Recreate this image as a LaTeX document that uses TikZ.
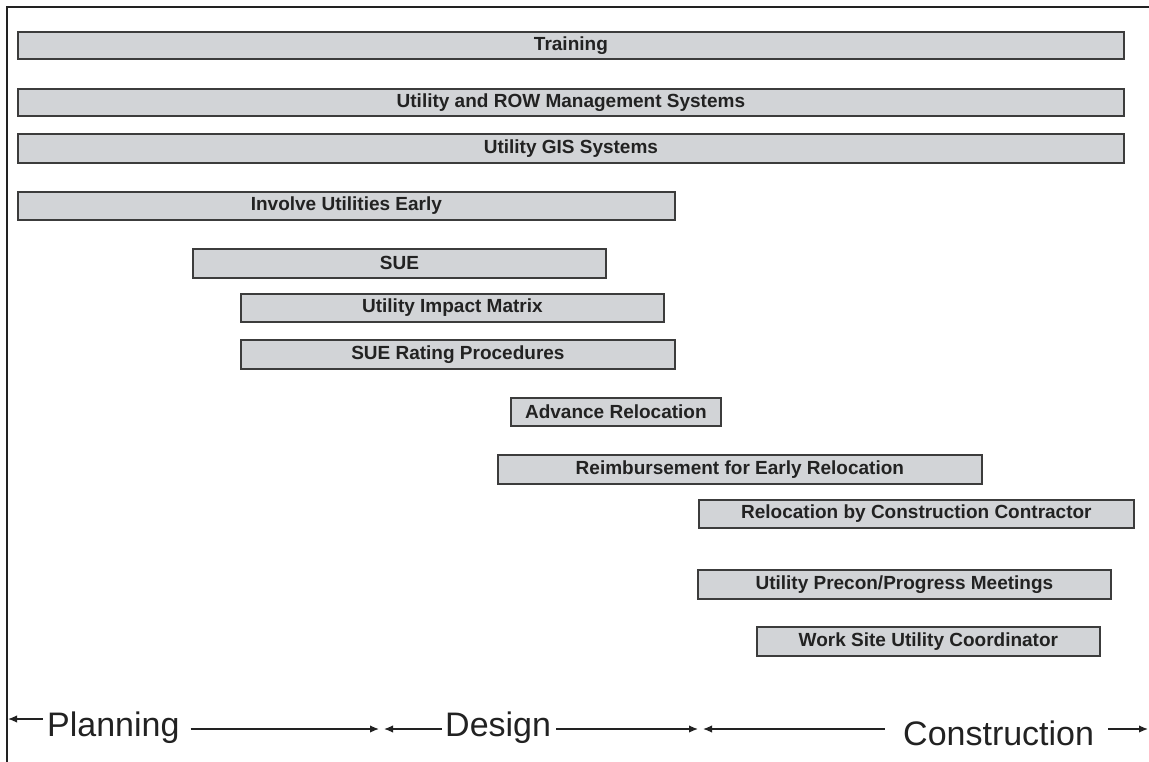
\documentclass[tikz,border=0pt]{standalone}
\usepackage{fontspec}
\setmainfont{Liberation Sans}
\usetikzlibrary{arrows.meta,calc}
\definecolor{barfill}{HTML}{D2D4D7}
\definecolor{barline}{HTML}{3C3C3C}
\definecolor{ink}{HTML}{222222}
\tikzset{
  bar/.style={draw=barline, fill=barfill, line width=1.8pt, inner sep=0pt, anchor=north west,
    text=ink, font=\fontsize{19}{22}\selectfont\bfseries},
  phase/.style={inner sep=0pt, anchor=base west, text=ink, font=\fontsize{34}{40}\selectfont},
  axis/.style={draw=ink, line width=1.4pt}
}
\begin{document}
\begin{tikzpicture}[x=1pt, y=-1pt, >={Latex[length=9pt,width=7.5pt]}]
\useasboundingbox (0,0) rectangle (1149,762);
\fill[white] (0,0) rectangle (1149,762);
\draw[line width=2pt, ink] (7,762) -- (7,7) -- (1149,7);
% activity bars
\node[bar, minimum width=1106pt, minimum height=27pt] (train) at (17,31) {Training};
\node[bar, minimum width=1106pt, minimum height=27pt] (rowsys) at (17,88) {Utility and ROW Management Systems};
\node[bar, minimum width=1106pt, minimum height=29pt] (gis) at (17,133) {Utility GIS Systems};
\node[bar, minimum width=657pt, minimum height=28pt] (early) at (17,191) {Involve Utilities Early};
\node[bar, minimum width=413pt, minimum height=29pt] (sue) at (192,248) {SUE};
\node[bar, minimum width=423pt, minimum height=28pt] (uim) at (240,293) {Utility Impact Matrix};
\node[bar, minimum width=434pt, minimum height=29pt] (rating) at (240,339) {SUE Rating Procedures};
\node[bar, minimum width=210pt, minimum height=28pt] (adv) at (510,397) {Advance Relocation};
\node[bar, minimum width=484pt, minimum height=29pt] (reimb) at (497,454) {Reimbursement for Early Relocation};
\node[bar, minimum width=435pt, minimum height=28pt] (contr) at (698,499) {Relocation by Construction Contractor};
\node[bar, minimum width=413pt, minimum height=29pt] (precon) at (697,569) {Utility Precon/Progress Meetings};
\node[bar, minimum width=343pt, minimum height=29pt] (coord) at (756,626) {Work Site Utility Coordinator};
% phase axis
\coordinate (ax) at (0,729);
\coordinate (top) at (0,719);
\node[phase] (plan) at (47,736) {Planning};
\node[phase] (des) at (445,736) {Design};
\node[phase] (con) at (903,745) {Construction};
\coordinate (a0) at (8,719);
\coordinate (a1) at (379,729);
\coordinate (a2) at (384,729);
\coordinate (a3) at (698,729);
\coordinate (a4) at (703,729);
\coordinate (a5) at (1148,729);
\draw[axis, <-] (a0) -- ($(plan.west |- top)+(-4,0)$);
\draw[axis, ->] ($(plan.east |- ax)+(11,0)$) -- (a1);
\draw[axis, <-] (a2) -- ($(des.west |- ax)+(-3,0)$);
\draw[axis, ->] ($(des.east |- ax)+(5,0)$) -- (a3);
\draw[axis, <-] (a4) -- ($(con.west |- ax)+(-18,0)$);
\draw[axis, ->] ($(con.east |- ax)+(14,0)$) -- (a5);
\end{tikzpicture}
\end{document}
